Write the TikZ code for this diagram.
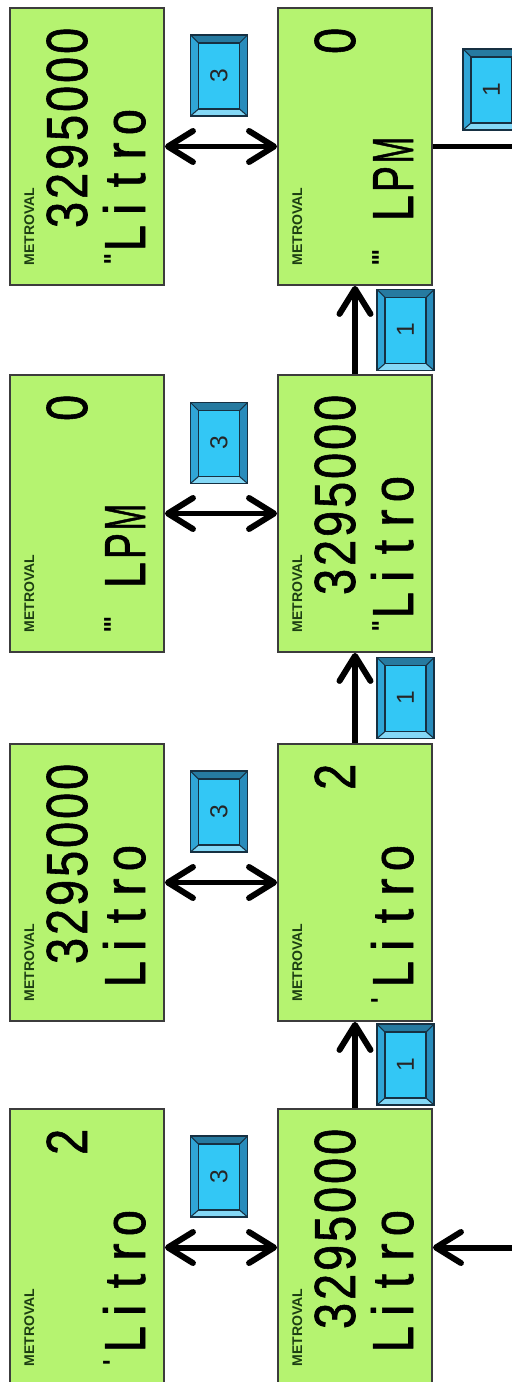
\documentclass[tikz,border=0pt]{standalone}
\usepackage{fontspec}
\usetikzlibrary{arrows.meta}
\newfontface\lcdfont{Liberation Sans}[FakeBold=1.2]
\newfontfamily\brandfont{Liberation Sans}
\newfontfamily\markfont{DejaVu Sans}
\definecolor{lcdgreen}{RGB}{181,243,112}
\definecolor{lcdborder}{RGB}{60,60,60}
\definecolor{branddark}{RGB}{28,62,18}
\definecolor{btnface}{RGB}{51,199,245}
\definecolor{btntop}{RGB}{38,122,160}
\definecolor{btnleft}{RGB}{48,165,214}
\definecolor{btnright}{RGB}{40,140,188}
\definecolor{btnbottom}{RGB}{132,216,246}
\definecolor{btnline}{RGB}{22,48,66}
\makeatletter
\newsavebox\lcd@box
\def\lcd@cell#1{\sbox\lcd@box{#1}%
  \ifdim\wd\lcd@box>0.52em
    \makebox[0.556em]{\resizebox{0.5em}{\ht\lcd@box}{\usebox\lcd@box}}%
  \else
    \makebox[0.556em]{\usebox\lcd@box}%
  \fi}
\def\lcdcells#1{\scalebox{0.9}[1]{\@tfor\lcd@c:=#1\do{\lcd@cell{\lcd@c}}}}
\makeatother
\newcommand\lcdpanel[6]{%
  \node[panel] (#1) at (#2+77,#3+138.5) {};
  \node[brand] (#1-brand) at (#2+24,#3+258) {METROVAL};
  \node[bignum] (#1-num) at (#2+77,#3+18) {\lcdcells{#4}};
  \node[unit] (#1-unit) at (#2+135,#3+#5) {\lcdcells{#6}};
}
\newcommand\keybtn[4]{%
  \begin{scope}[shift={(#2,#3)}]
    \fill[btnface] (-20.5,-32.5) rectangle (20.5,33.5);
    \fill[btntop] (-28.5,-40.5) -- (28.5,-40.5) -- (20.5,-32.5) -- (-20.5,-32.5) -- cycle;
    \fill[btnbottom] (-28.5,40.5) -- (28.5,40.5) -- (20.5,33.5) -- (-20.5,33.5) -- cycle;
    \fill[btnleft] (-28.5,-40.5) -- (-20.5,-32.5) -- (-20.5,33.5) -- (-28.5,40.5) -- cycle;
    \fill[btnright] (28.5,-40.5) -- (20.5,-32.5) -- (20.5,33.5) -- (28.5,40.5) -- cycle;
    \draw[btnedge] (-28.5,-40.5) rectangle (28.5,40.5);
    \draw[btnedge] (-20.5,-32.5) rectangle (20.5,33.5);
    \draw[btnedge] (-28.5,-40.5) -- (-20.5,-32.5) (28.5,-40.5) -- (20.5,-32.5)
                   (-28.5,40.5) -- (-20.5,33.5) (28.5,40.5) -- (20.5,33.5);
    \node[btnlabel] (#1) at (0,0) {#4};
  \end{scope}
}
\begin{document}
\begin{tikzpicture}[x=0.02cm,y=-0.02cm,
  panel/.style={draw=lcdborder,fill=lcdgreen,line width=1.1pt,minimum width=3.08cm,minimum height=5.54cm,inner sep=0pt},
  brand/.style={font=\brandfont\bfseries\fontsize{8}{9}\selectfont,text=branddark,rotate=90,anchor=base west,inner sep=0pt},
  bignum/.style={font=\lcdfont\fontsize{33}{33}\selectfont,text=black,rotate=90,anchor=base east,inner sep=0pt},
  unit/.style={font=\lcdfont\fontsize{33}{33}\selectfont,text=black,rotate=90,anchor=base west,inner sep=0pt},
  lcdmark/.style={font=\markfont\bfseries\fontsize{14}{14}\selectfont,text=black,rotate=90,anchor=center,inner sep=0pt},
  btnedge/.style={draw=btnline,line width=0.6pt},
  btnlabel/.style={font=\brandfont\fontsize{14}{14}\selectfont,text=black!85,rotate=90,inner sep=0pt},
  arr/.style={line width=3.4pt,draw=black,-{Straight Barb[length=0.5cm,width=0.62cm,round]}},
  dbl/.style={line width=3.4pt,draw=black,{Straight Barb[length=0.5cm,width=0.62cm,round]}-{Straight Barb[length=0.5cm,width=0.62cm,round]}},
  plain/.style={line width=3.4pt,draw=black}
]
\useasboundingbox (0,0) rectangle (511,1382);
\fill[white] (0,0) rectangle (511,1382);

% panels
\lcdpanel{p1L}{10}{8}{3295000}{245}{Litro}
\lcdpanel{p1R}{278}{8}{0}{215}{LPM}
\lcdpanel{p2L}{10}{375}{0}{215}{LPM}
\lcdpanel{p2R}{278}{375}{3295000}{245}{Litro}
\lcdpanel{p3L}{10}{744}{3295000}{245}{Litro}
\lcdpanel{p3R}{278}{744}{2}{245}{Litro}
\lcdpanel{p4L}{10}{1109}{2}{245}{Litro}
\lcdpanel{p4R}{278}{1109}{3295000}{245}{Litro}

% small marks before the unit
\node[lcdmark] (m1L) at (114,259) {'\kern-0.1em'};
\node[lcdmark] (m1R) at (382,258) {'\kern-0.1em'\kern-0.1em'};
\node[lcdmark] (m2L) at (114,625) {'\kern-0.1em'\kern-0.1em'};
\node[lcdmark] (m2R) at (382,626) {'\kern-0.1em'};
\node[lcdmark] (m3R) at (381,1001) {'};
\node[lcdmark] (m4L) at (113,1363) {'};

% keys
\keybtn{k3a}{219}{75.5}{3}
\keybtn{k3b}{219}{443}{3}
\keybtn{k3c}{219}{811.5}{3}
\keybtn{k3d}{219}{1176.5}{3}
\keybtn{k1a}{405.5}{330}{1}
\keybtn{k1b}{405.5}{698}{1}
\keybtn{k1c}{405.5}{1064.5}{1}
\keybtn{k1d}{491.5}{89.5}{1}

% connectors
\draw[dbl] (p1L.east) -- (p1R.west);
\draw[dbl] (p2L.east) -- (p2R.west);
\draw[dbl] (p3L.east) -- (p3R.west);
\draw[dbl] (p4L.east) -- (p4R.west);
\draw[arr] (p2R.north) -- (p1R.south);
\draw[arr] (p3R.north) -- (p2R.south);
\draw[arr] (p4R.north) -- (p3R.south);
\coordinate (outR) at (516,146.5);
\coordinate (inR) at (516,1247.5);
\draw[plain] (p1R.east) -- (outR);
\draw[arr] (inR) -- (p4R.east);
\end{tikzpicture}
\end{document}
